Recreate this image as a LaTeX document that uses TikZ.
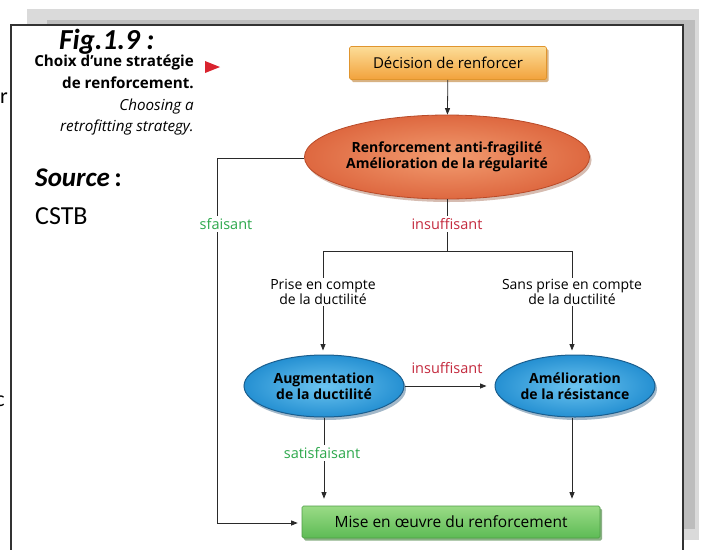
\documentclass[tikz,border=0pt]{standalone}
\usepackage{fontspec}
\setmainfont{Open Sans}
\newfontfamily\carlfont{Carlito}
\usetikzlibrary{arrows.meta,shapes.geometric,shadows}

\definecolor{okgreen}{HTML}{2DA84C}
\definecolor{badred}{HTML}{C42A3E}
\definecolor{lineink}{HTML}{2A2A2A}
\definecolor{pagelight}{HTML}{DADADA}
\definecolor{pagedark}{HTML}{BDBDBD}
\definecolor{frameink}{HTML}{333333}
\definecolor{markred}{HTML}{D9232E}
\definecolor{orTop}{HTML}{FCDD98}
\definecolor{orBot}{HTML}{F2A23C}
\definecolor{orEdge}{HTML}{E0952E}
\definecolor{orShade}{HTML}{B8731E}
\definecolor{grTop}{HTML}{9ADB86}
\definecolor{grBot}{HTML}{5DBB55}
\definecolor{grEdge}{HTML}{4E9E45}
\definecolor{grShade}{HTML}{3C7C35}
\definecolor{reIn}{HTML}{F29C70}
\definecolor{reOut}{HTML}{DE6840}
\definecolor{reEdge}{HTML}{B84A28}
\definecolor{reShade}{HTML}{8A4020}
\definecolor{blIn}{HTML}{6CC4F0}
\definecolor{blOut}{HTML}{2590D2}
\definecolor{blEdge}{HTML}{1A5E8E}
\definecolor{blShade}{HTML}{1A4E78}

\begin{document}
\begin{tikzpicture}[x=1pt,y=-1pt,
  ln/.style={line width=0.8pt, draw=lineink},
  arr/.style={ln, -{Triangle[length=6.5pt,width=5pt]}},
  boxtext/.style={font=\fontsize{15}{17}\selectfont},
  elltext/.style={font=\bfseries\fontsize{14}{16.5}\selectfont, align=center},
  branch/.style={font=\fontsize{14}{15.5}\selectfont, align=center, inner sep=1pt},
  okl/.style={font=\fontsize{14.5}{16}\selectfont, text=okgreen, fill=white, inner sep=2pt},
  badl/.style={font=\fontsize{14.5}{16}\selectfont, text=badred, fill=white, inner sep=2pt},
  orangebox/.style={rectangle, rounded corners=1.5pt, minimum width=197pt, minimum height=33pt,
    top color=orTop, bottom color=orBot, draw=orEdge, line width=0.6pt,
    drop shadow={shadow xshift=2pt, shadow yshift=-2.5pt, fill=orShade, opacity=0.55}},
  greenbox/.style={rectangle, rounded corners=1.5pt, minimum width=298pt, minimum height=32pt,
    top color=grTop, bottom color=grBot, draw=grEdge, line width=0.6pt,
    drop shadow={shadow xshift=2pt, shadow yshift=-2.5pt, fill=grShade, opacity=0.6}},
  orangeell/.style={ellipse, inner sep=0pt, minimum width=267pt, minimum height=84pt,
    inner color=reIn, outer color=reOut, draw=reEdge, line width=0.8pt,
    drop shadow={shadow xshift=2pt, shadow yshift=-3pt, fill=reShade, opacity=0.35}},
  blueell/.style={ellipse, inner sep=0pt, minimum width=160pt, minimum height=62pt,
    inner color=blIn, outer color=blOut, draw=blEdge, line width=1pt,
    drop shadow={shadow xshift=2pt, shadow yshift=-3pt, fill=blShade, opacity=0.4}},
]
\useasboundingbox (0,0) rectangle (704,549);

% page shadow and frame
\fill[pagelight] (27,9) rectangle (699,540);
\fill[pagedark] (47,20) rectangle (695,529);
\filldraw[fill=white, draw=frameink, line width=1.2pt] (11,25) rectangle (683,560);

% letters of the neighbouring page text, cut by the page edge
\node[anchor=east, inner sep=0pt, font=\carlfont\fontsize{22}{22}\selectfont] (cutr) at (8,98) {r};
\node[anchor=east, inner sep=0pt, font=\carlfont\fontsize{22}{22}\selectfont] (cutc) at (5,401) {c};

% caption
\node[anchor=west, inner sep=0pt, font=\carlfont\bfseries\itshape\fontsize{29}{29}\selectfont] (fig) at (59,42) {Fig.1.9 :};
\node[anchor=north east, inner sep=0pt, align=right,
      font=\fontsize{15.2}{21.7}\selectfont] (cap) at (194,55)
  {\textbf{Choix d'une stratégie}\\\textbf{de renforcement.}\\\textit{Choosing a}\\\textit{retrofitting strategy.}};
\fill[markred] (205,61) -- (220,67) -- (205,73) -- cycle;
\node[anchor=west, inner sep=0pt, font=\carlfont\bfseries\itshape\fontsize{27}{27}\selectfont] (src) at (35,178) {Source\,{\upshape\bfseries:}};
\node[anchor=west, inner sep=0pt, font=\carlfont\fontsize{26}{26}\selectfont] (cstb) at (35,216) {CSTB};

% flowchart nodes
\node[orangebox, boxtext] (dec) at (448,63) {Décision de renforcer};
\node[orangeell, elltext] (frag) at (447,157) {Renforcement anti-fragilité\\[-1pt]Amélioration de la régularité};
\node[blueell, elltext] (duct) at (324,386) {Augmentation\\[-1pt]de la ductilité};
\node[blueell, elltext] (res) at (575,386) {Amélioration\\[-1pt]de la résistance};
\node[greenbox, font=\fontsize{15.5}{17}\selectfont] (mise) at (451,522) {Mise en \oe uvre du renforcement};

\node[branch] (pc) at (323,292) {Prise en compte\\de la ductilité};
\node[branch] (spc) at (572,292) {Sans prise en compte\\de la ductilité};

\coordinate (split) at (447,251);
\coordinate (splitl) at (323,251);
\coordinate (splitr) at (572,251);
\coordinate (leftup) at (217,158);
\coordinate (leftdn) at (217,523);

% connectors
\draw[arr] (dec) -- (frag);
\draw[ln] (frag.south) -- (split);
\draw[ln] (splitl) -- (splitr);
\draw[ln] (splitl) -- (pc.north);
\draw[ln] (splitr) -- (spc.north);
\draw[arr, shorten >=4pt] (pc.south) -- (pc.south |- duct.north);
\draw[arr, shorten >=4pt] (spc.south) -- (spc.south |- res.north);
\draw[arr, shorten >=8pt] (duct.east) -- (res.west);
\draw[arr, shorten >=7pt] (duct.south) -- (duct.south |- mise.north);
\draw[arr, shorten >=7pt] (spc.south |- res.south) -- (spc.south |- mise.north);
\draw[arr, shorten >=4pt] (frag.west |- leftup) -- (leftup) -- (leftdn) -- (leftdn -| mise.west);

% branch labels
\node[okl] (lsf) at (226,224) {sfaisant};
\node[badl] (lins1) at (447,224) {insuffisant};
\node[badl] (lins2) at (447,368) {insuffisant};
\node[okl] (lsat) at (322,453) {satisfaisant};
\end{tikzpicture}
\end{document}
